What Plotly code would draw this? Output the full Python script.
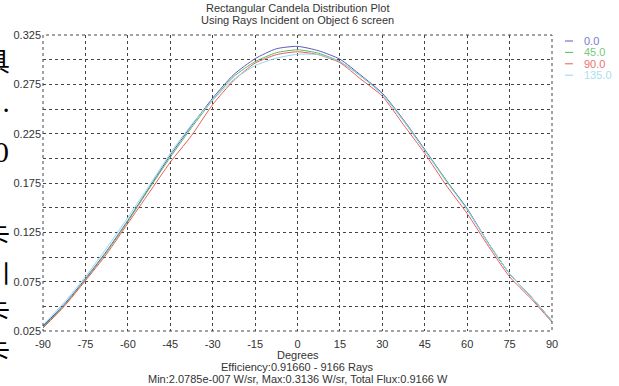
import plotly.graph_objects as go

# ---- data ----
angles = [-90, -82.5, -75, -67.5, -60, -52.5, -45, -37.5, -30, -22.5, -15, -7.5, 0,
          7.5, 15, 22.5, 30, 37.5, 45, 52.5, 60, 67.5, 75, 82.5, 90]
series_names = ["0.0", "45.0", "90.0", "135.0"]
s0 = [0.030, 0.052, 0.078, 0.106, 0.137, 0.170, 0.203, 0.233, 0.261, 0.285, 0.301, 0.311, 0.3135,
      0.309, 0.3005, 0.284, 0.266, 0.239, 0.209, 0.178, 0.149, 0.114, 0.083, 0.060, 0.035]
s45 = [0.029, 0.051, 0.077, 0.105, 0.136, 0.169, 0.201, 0.231, 0.259, 0.283, 0.298, 0.307, 0.310,
       0.3065, 0.298, 0.283, 0.265, 0.238, 0.208, 0.178, 0.148, 0.114, 0.083, 0.060, 0.035]
s90 = [0.028, 0.050, 0.076, 0.103, 0.134, 0.165, 0.196, 0.223, 0.2545, 0.279, 0.2965, 0.305, 0.308,
       0.305, 0.297, 0.280, 0.263, 0.234, 0.205, 0.173, 0.144, 0.111, 0.080, 0.058, 0.034]
s135 = [0.031, 0.054, 0.080, 0.109, 0.140, 0.172, 0.205, 0.234, 0.259, 0.280, 0.294, 0.3015, 0.3055,
        0.305, 0.298, 0.283, 0.265, 0.238, 0.208, 0.177, 0.148, 0.114, 0.083, 0.060, 0.035]
series_values = [s0, s45, s90, s135]

x_ticks = [-90, -75, -60, -45, -30, -15, 0, 15, 30, 45, 60, 75, 90]
y_grid = [0.025, 0.05, 0.075, 0.1, 0.125, 0.15, 0.175, 0.2, 0.225, 0.25, 0.275, 0.3, 0.325]
y_labels = ["0.025", "", "0.075", "", "0.125", "", "0.175", "", "0.225", "", "0.275", "", "0.325"]

title_lines = ["Rectangular Candela Distribution Plot", "Using Rays Incident on Object 6 screen"]
x_title = "Degrees"
footer_lines = ["Efficiency:0.91660 - 9166 Rays",
                "Min:2.0785e-007 W/sr, Max:0.3136 W/sr, Total Flux:0.9166 W"]
side_glyphs = ["具", "·", "0", "、", "卡", "川", "卡", "卡"]

# ---- style ----
W, H = 619, 386
L, R, T, B = 43, 67, 35, 55
line_colors = ["#5a5ac0", "#5ab85a", "#ee5a5a", "#8fd8ee"]
text_colors = ["#7a7acc", "#7ac87a", "#f07070", "#a8e0f0"]
font_family = "Liberation Sans, Arial, sans-serif"
pw = W - L - R
ph = H - T - B

fig = go.Figure()
for name, vals, col in zip(series_names, series_values, line_colors):
    fig.add_trace(go.Scatter(x=angles, y=vals, mode="lines", name=name,
                             line=dict(color=col, width=1, shape="spline", smoothing=0.6),
                             showlegend=False))

fig.update_layout(
    width=W, height=H,
    margin=dict(l=L, r=R, t=T, b=B),
    paper_bgcolor="white", plot_bgcolor="white",
    font=dict(family=font_family, size=11, color="#333"),
    xaxis=dict(range=[-90, 90], tickvals=x_ticks, ticktext=[str(v) for v in x_ticks],
               showgrid=True, gridcolor="#444", griddash="dot", gridwidth=1,
               zeroline=False, showline=False, ticks="", ticklabelstandoff=5,
               automargin=False, tickfont=dict(size=11, color="#333")),
    yaxis=dict(range=[0.025, 0.325], tickvals=y_grid, ticktext=y_labels,
               showgrid=True, gridcolor="#444", griddash="dot", gridwidth=1,
               zeroline=False, showline=False, ticks="", ticklabelstandoff=1,
               automargin=False, tickfont=dict(size=11, color="#333")),
)

# frame
fig.add_shape(type="rect", xref="paper", yref="paper", x0=0, y0=0, x1=1, y1=1,
              line=dict(color="#444", width=1, dash="dot"))

# titles
for i, t in enumerate(title_lines):
    fig.add_annotation(text=t, xref="paper", yref="paper", x=0.5,
                       y=1 + (T - 8 - 12 * i) / ph, xanchor="center", yanchor="middle",
                       showarrow=False, font=dict(size=11, color="#333"))
fig.add_annotation(text=x_title, xref="paper", yref="paper", x=0.5,
                   y=-(355 - (H - B)) / ph, xanchor="center", yanchor="middle",
                   showarrow=False, font=dict(size=11, color="#333"))
for i, t in enumerate(footer_lines):
    fig.add_annotation(text=t, xref="paper", yref="paper", x=0.5,
                       y=-(367 + 12 * i - (H - B)) / ph, xanchor="center", yanchor="middle",
                       showarrow=False, font=dict(size=11, color="#333"))

# legend (manual)
for i, (name, lc, tc) in enumerate(zip(series_names, line_colors, text_colors)):
    yp = 41 + 11.4 * i
    yv = 1 - (yp - T) / ph
    fig.add_shape(type="line", xref="paper", yref="paper",
                  x0=(565 - L) / pw, x1=(573 - L) / pw, y0=yv, y1=yv,
                  line=dict(color=lc, width=1))
    fig.add_annotation(text=name, xref="paper", yref="paper", x=(582 - L) / pw, y=yv,
                       xanchor="left", yanchor="middle", showarrow=False,
                       font=dict(size=11, color=tc))

# clipped vertical glyphs at the left edge
glyph_y = [62, 110, 153, 198, 236, 274, 312, 352]
for g, yp in zip(side_glyphs, glyph_y):
    fig.add_annotation(text=g, xref="paper", yref="paper", x=(12 - L) / pw,
                       y=1 - (yp - T) / ph, xanchor="right", yanchor="middle",
                       showarrow=False,
                       font=dict(size=26, color="black", family="DejaVu Serif, Noto Sans CJK SC"))

fig.write_html("out.html", config={"displayModeBar": False},
               post_script="document.body.style.margin='0px';document.body.style.padding='0px';")
